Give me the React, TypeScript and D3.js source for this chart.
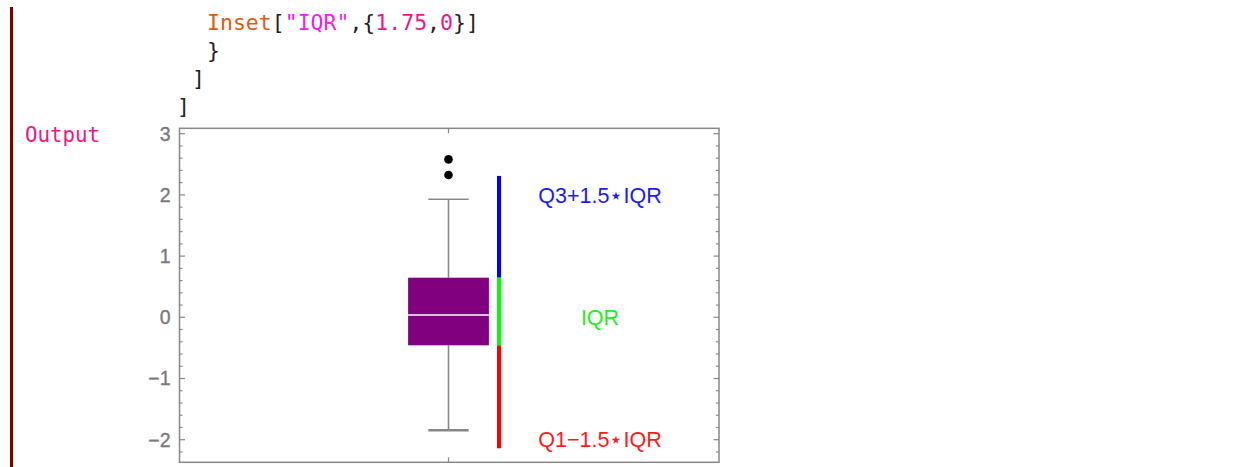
import React from "react";
import * as d3 from "d3";

// code cell text above the output
const codeLines = [
  { x: 207, y: 30, parts: [
    { t: "Inset", c: "#e05a12" },
    { t: "[", c: "#222" },
    { t: "\"IQR\"", c: "#f020f0" },
    { t: ",{", c: "#222" },
    { t: "1.75", c: "#f0168a" },
    { t: ",", c: "#222" },
    { t: "0", c: "#f0168a" },
    { t: "}]", c: "#222" },
  ] },
  { x: 207, y: 58, parts: [{ t: "}", c: "#222" }] },
  { x: 192, y: 86, parts: [{ t: "]", c: "#222" }] },
  { x: 177, y: 114, parts: [{ t: "]", c: "#222" }] },
];

// box-whisker stats
const q1 = -0.458;
const median = 0.038;
const q3 = 0.647;
const whiskerLow = -1.846;
const whiskerHigh = 1.928;
const outliers = [2.325, 2.58];

const yTicks = [-2, -1, 0, 1, 2, 3];

// the colored fences beside the box
const fenceSegments = [
  { from: q3, to: 2.31, color: "#0000ff" },
  { from: q1, to: q3, color: "#00ff00" },
  { from: -2.14, to: q1, color: "#ff0000" },
];

const insetLabels = [
  { text: "Q3+1.5\u22C6IQR", y: 2, color: "#1a1aff" },
  { text: "IQR", y: 0, color: "#22ee22" },
  { text: "Q1\u22121.5\u22C6IQR", y: -2, color: "#ff1a1a" },
];

const frameLeft = 179.5;
const frameRight = 719;
const frameTop = 128.3;
const frameBottom = 462.3;

export default function App() {
  const y = d3.scaleLinear().domain([0, 3]).range([317.3, 133.7]);
  const x = d3.scaleLinear().domain([1, 1.75]).range([448.5, 600]);

  const yMin = y.invert(frameBottom);
  const yMax = y.invert(frameTop);
  const minorTicks = d3.range(Math.ceil(yMin / 0.2) * 0.2, yMax, 0.2)
    .filter((v) => Math.abs(v - Math.round(v)) > 0.01);

  const boxHalf = x(1.2) - x(1);
  const capHalf = boxHalf / 2;
  const fenceX = x(1.25);
  const gray = "#888";
  const fmt = (v: number) => (v < 0 ? "\u2212" + Math.abs(v) : String(v));

  return (
    <svg width={1252} height={467} style={{ position: "absolute", left: 0, top: 0 }}>
      <rect x={0} y={0} width={1252} height={467} fill="#fff" />
      <rect x={10} y={7} width={3} height={460} fill="#800000" />

      <g fontFamily="'DejaVu Sans Mono', monospace" fontSize={21.5}>
        {codeLines.map((l, i) => (
          <text key={i} x={l.x} y={l.y}>
            {l.parts.map((p, j) => (
              <tspan key={j} fill={p.c}>{p.t}</tspan>
            ))}
          </text>
        ))}
        <text x={25} y={141.5} fill="#f0168a" fontSize={20.8}>Output</text>
      </g>

      {/* frame */}
      <rect x={frameLeft} y={frameTop} width={frameRight - frameLeft} height={frameBottom - frameTop}
        fill="none" stroke={gray} strokeWidth={1.5} />

      {/* ticks */}
      <g stroke={gray} strokeWidth={1.2}>
        {yTicks.map((t) => (
          <g key={t}>
            <line x1={frameLeft} x2={frameLeft + 5.5} y1={y(t)} y2={y(t)} />
            <line x1={frameRight} x2={frameRight - 5.5} y1={y(t)} y2={y(t)} />
          </g>
        ))}
        {minorTicks.map((t, i) => (
          <g key={i}>
            <line x1={frameLeft} x2={frameLeft + 3} y1={y(t)} y2={y(t)} />
            <line x1={frameRight} x2={frameRight - 3} y1={y(t)} y2={y(t)} />
          </g>
        ))}
        <line x1={x(1)} x2={x(1)} y1={frameBottom} y2={frameBottom - 5} />
        <line x1={x(1)} x2={x(1)} y1={frameTop} y2={frameTop + 5} />
      </g>
      <g fontFamily="'Liberation Sans', Arial, sans-serif" fontSize={19.5} fill="#7a7a7a"
        stroke="#7a7a7a" strokeWidth={0.35} textAnchor="end">
        {yTicks.map((t) => (
          <text key={t} x={170.5} y={y(t)} dy="0.35em">{fmt(t)}</text>
        ))}
      </g>

      {/* whiskers */}
      <g stroke={gray} strokeWidth={1.6}>
        <line x1={x(1)} x2={x(1)} y1={y(q3)} y2={y(whiskerHigh)} />
        <line x1={x(1)} x2={x(1)} y1={y(q1)} y2={y(whiskerLow)} />
        <line x1={x(1) - capHalf} x2={x(1) + capHalf} y1={y(whiskerHigh)} y2={y(whiskerHigh)} />
        <line x1={x(1) - capHalf} x2={x(1) + capHalf} y1={y(whiskerLow)} y2={y(whiskerLow)} strokeWidth={2.4} />
      </g>
      <rect x={x(1) - boxHalf} y={y(q3)} width={boxHalf * 2} height={y(q1) - y(q3)} fill="#800080" />
      <line x1={x(1) - boxHalf} x2={x(1) + boxHalf} y1={y(median)} y2={y(median)} stroke="#fff" strokeWidth={1.5} />
      {outliers.map((o, i) => (
        <circle key={i} cx={x(1)} cy={y(o)} r={4.3} fill="#000" />
      ))}

      {/* fences */}
      {fenceSegments.map((s, i) => (
        <line key={i} x1={fenceX} x2={fenceX} y1={y(s.from)} y2={y(s.to)} stroke={s.color} strokeWidth={4} />
      ))}
      <g fontFamily="'Liberation Sans', Arial, sans-serif" fontSize={21.5} textAnchor="middle">
        {insetLabels.map((l, i) => (
          <text key={i} x={x(1.75)} y={y(l.y)} dy="0.36em" fill={l.color}>{l.text}</text>
        ))}
      </g>
    </svg>
  );
}
